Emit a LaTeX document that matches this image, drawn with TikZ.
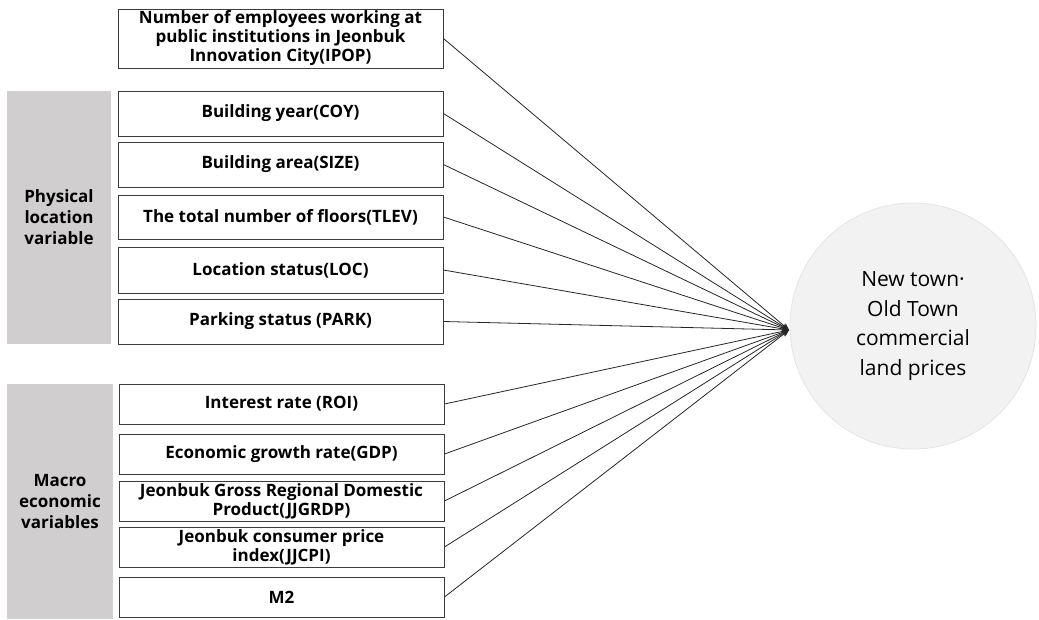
\documentclass[tikz,border=0pt]{standalone}
\usepackage{fontspec}
\setmainfont{Open Sans}
\usetikzlibrary{arrows.meta}
\definecolor{barfill}{RGB}{208,206,206}
\definecolor{circfill}{RGB}{242,242,242}
\definecolor{circline}{RGB}{228,228,228}
\definecolor{boxline}{RGB}{60,60,60}
\begin{document}
\begin{tikzpicture}[x=1pt,y=-1pt,
  varbox/.style={draw=boxline,line width=0.9pt,fill=white,minimum width=325pt,inner sep=0pt,align=center,font=\bfseries\fontsize{17}{19}\selectfont},
  groupbar/.style={fill=barfill,draw=none,inner sep=0pt,align=center,font=\bfseries\fontsize{17}{21}\selectfont},
  target/.style={circle,fill=circfill,draw=circline,line width=0.8pt,minimum size=246pt,inner sep=0pt,align=center,font=\fontsize{21}{29.5}\selectfont},
  link/.style={draw=black!85,line width=0.8pt,-{Stealth[length=7pt,width=6pt]}}]
\useasboundingbox (0,0) rectangle (1039,619);
% group bars
\node[groupbar,minimum width=104pt,minimum height=253pt] (physbar) at (59,217.5) {Physical\\location\\variable};
\node[groupbar,minimum width=106pt,minimum height=235pt] (macrobar) at (60,501.5) {Macro\\economic\\variables};
% variable boxes
\node[varbox,minimum height=59pt] (ipop) at (280.5,38.5) {Number of employees working at\\public institutions in Jeonbuk\\Innovation City(IPOP)};
\node[varbox,minimum height=45pt] (coy) at (280.5,113.5) {Building year(COY)};
\node[varbox,minimum height=45pt] (size) at (280.5,164.5) {Building area(SIZE)};
\node[varbox,minimum height=44pt] (tlev) at (280.5,217) {The total number of floors(TLEV)};
\node[varbox,minimum height=46pt] (loc) at (280.5,270) {Location status(LOC)};
\node[varbox,minimum height=45pt] (park) at (280.5,321.5) {Parking status (PARK)};
\node[varbox,minimum height=40pt] (roi) at (281.5,404) {Interest rate (ROI)};
\node[varbox,minimum height=40pt] (gdp) at (281.5,454) {Economic growth rate(GDP)};
\node[varbox,minimum height=40pt] (grdp) at (281.5,501) {Jeonbuk Gross Regional Domestic\\Product(JJGRDP)};
\node[varbox,minimum height=40pt] (cpi) at (281.5,547) {Jeonbuk consumer price\\index(JJCPI)};
\node[varbox,minimum height=40pt] (m2) at (281.5,597) {M2};
% target
\node[target] (price) at (913,326) {New town·\\Old Town\\commercial\\land prices};
\coordinate (tip) at (789,330);
\foreach \n in {ipop,coy,size,tlev,loc,park,roi,gdp,grdp,cpi,m2}
  \draw[link] (\n.east) -- (tip);
\end{tikzpicture}
\end{document}
